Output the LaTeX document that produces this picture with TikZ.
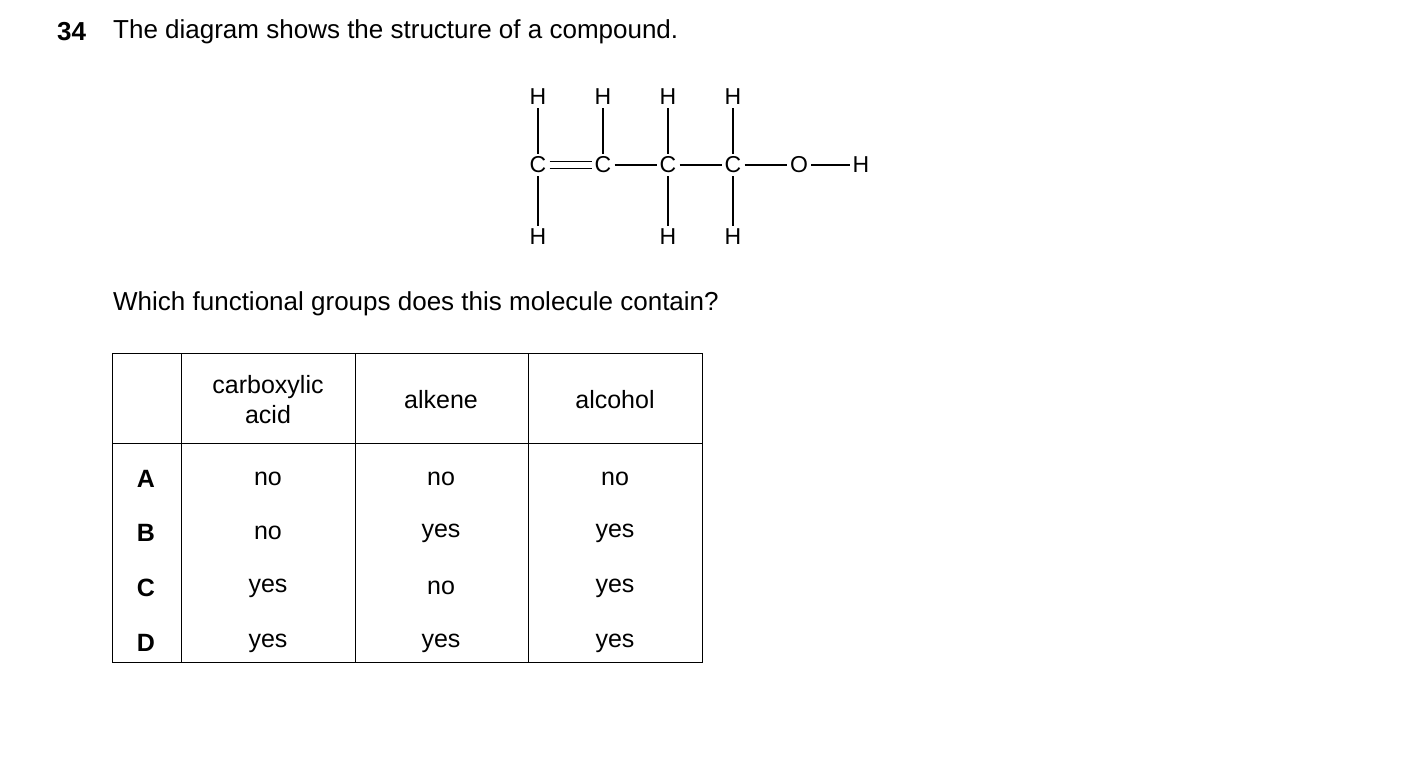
\documentclass[tikz,border=0pt]{standalone}
\usepackage{fontspec}
\setmainfont{Liberation Sans}
\begin{document}
\begin{tikzpicture}[x=1pt,y=-1pt,
  atom/.style={font=\fontsize{23}{23}\selectfont, inner sep=3pt},
  bond/.style={line width=1.3pt},
  txt/.style={font=\fontsize{26}{30}\selectfont, inner sep=0pt},
  cell/.style={font=\fontsize{25}{30}\selectfont, inner sep=0pt, align=center},
  grid/.style={line width=1pt}]
\useasboundingbox (0,0) rectangle (1403,756);
\node[txt, anchor=west, font=\fontsize{26}{30}\selectfont\bfseries] (num) at (57,32) {34};
\node[txt, anchor=west] (q1) at (113,32) {The diagram shows the structure of a compound.};
% molecule
\node[atom] (c1) at (538,165) {C};
\node[atom] (c2) at (603,165) {C};
\node[atom] (c3) at (668,165) {C};
\node[atom] (c4) at (733,165) {C};
\node[atom] (o) at (799,165) {O};
\node[atom] (ho) at (861,165) {H};
\node[atom] (h1) at (538,97) {H};
\node[atom] (h2) at (603,97) {H};
\node[atom] (h3) at (668,97) {H};
\node[atom] (h4) at (733,97) {H};
\node[atom] (h5) at (538,237) {H};
\node[atom] (h6) at (668,237) {H};
\node[atom] (h7) at (733,237) {H};
\draw[bond] ([yshift=-3.5pt]c1.east) -- ([yshift=-3.5pt]c2.west);
\draw[bond] ([yshift=3.5pt]c1.east) -- ([yshift=3.5pt]c2.west);
\draw[bond] (c2) -- (c3);
\draw[bond] (c3) -- (c4);
\draw[bond] (c4) -- (o);
\draw[bond] (o) -- (ho);
\foreach \a/\b in {h1/c1,h2/c2,h3/c3,h4/c4,c1/h5,c3/h6,c4/h7} \draw[bond] (\a) -- (\b);
\node[txt, anchor=west] (q2) at (113,304) {Which functional groups does this molecule contain?};
% table
\draw[grid] (112,353) rectangle (702,662);
\draw[grid] (112,443) -- (702,443);
\foreach \x in {181,355,528} \draw[grid] (\x,353) -- (\x,662);
\node[cell] (hd1) at (268,400) {carboxylic\\acid};
\node[cell] (hd2) at (441,400) {alkene};
\node[cell] (hd3) at (615,400) {alcohol};
\foreach \l/\y/\a/\b/\c in {A/479/no/no/no, B/533/no/yes/yes, C/588/yes/no/yes, D/643/yes/yes/yes}{
  \node[cell, font=\fontsize{25}{30}\selectfont\bfseries] (r\l) at (146,\y) {\l};
  \node[cell] (a\l) at (268,\y) {\a};
  \node[cell] (b\l) at (441,\y) {\b};
  \node[cell] (c\l) at (615,\y) {\c};
}
\end{tikzpicture}
\end{document}
